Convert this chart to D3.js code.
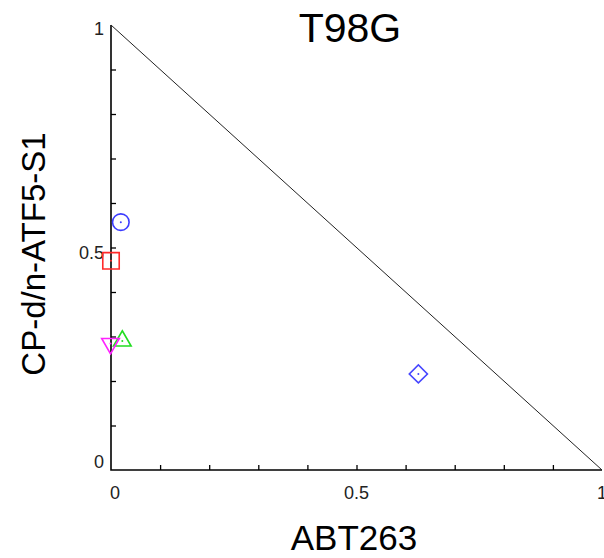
<!DOCTYPE html>
<html>
<head>
<meta charset="utf-8">
<script src="https://cdn.jsdelivr.net/npm/d3@7"></script>
<style>
  body { margin: 0; background: #fff; }
  svg { display: block; }
</style>
</head>
<body>
<script>
// data
const abt263 = [0.02, 0.0, 0.023, -0.001, 0.626]
const cpAtf5 = [0.557, 0.47, 0.29, 0.284, 0.216]
const xTickLabels = ['0', '0.5', '1']
const yTickLabels = ['0', '0.5', '1']
const minorTicks = [0.1, 0.2, 0.3, 0.4, 0.5, 0.6, 0.7, 0.8, 0.9]
const isoLine = [[0, 1], [1, 0]]

// marker styles, one per point
const markers = [
  { type: 'circle', color: '#3c3cff' },
  { type: 'square', color: '#ff2a2a' },
  { type: 'up', color: '#22dd22' },
  { type: 'down', color: '#ff22ff' },
  { type: 'diamond', color: '#4646ff' }
]

const width = 604
const height = 558
const margins = { top: 25, left: 111, right: 2, bottom: 88 }

const svg = d3.select('body').append('svg')
  .attr('width', width)
  .attr('height', height)

const x = d3.scaleLinear().domain([0, 1]).range([margins.left, width - margins.right])
const y = d3.scaleLinear().domain([0, 1]).range([height - margins.bottom, margins.top])

// axes: inward minor ticks
svg.append('g')
  .attr('transform', 'translate(0,' + y(0) + ')')
  .call(d3.axisTop(x).tickValues(minorTicks).tickSize(5).tickFormat(''))
  .call(g => g.select('.domain').remove())
  .selectAll('line').attr('stroke', '#000').attr('stroke-width', 1.3)

svg.append('g')
  .attr('transform', 'translate(' + x(0) + ',0)')
  .call(d3.axisRight(y).tickValues(minorTicks).tickSize(5).tickFormat(''))
  .call(g => g.select('.domain').remove())
  .selectAll('line').attr('stroke', '#000').attr('stroke-width', 1.3)

// axis lines
svg.append('path')
  .attr('d', 'M' + x(0) + ',' + y(1) + 'V' + y(0) + 'H' + x(1))
  .attr('fill', 'none')
  .attr('stroke', '#000')
  .attr('stroke-width', 1.6)

// tick labels
svg.append('g')
  .selectAll('text')
  .data(xTickLabels)
  .join('text')
  .attr('x', d => x(+d) + (+d === 0 ? 4 : 0))
  .attr('y', y(0) + 29)
  .attr('text-anchor', 'middle')
  .attr('font-family', 'Liberation Sans, Arial, sans-serif')
  .attr('font-size', 18)
  .attr('fill', '#222')
  .text(d => d)

svg.append('g')
  .selectAll('text')
  .data(yTickLabels)
  .join('text')
  .attr('x', x(0) - 7)
  .attr('y', d => y(+d) + (+d === 0 ? -2 : +d === 1 ? 10 : 11))
  .attr('text-anchor', 'end')
  .attr('font-family', 'Liberation Sans, Arial, sans-serif')
  .attr('font-size', 18)
  .attr('fill', '#222')
  .text(d => d)

// additivity line
svg.append('path')
  .attr('d', d3.line().x(d => x(d[0])).y(d => y(d[1]))(isoLine))
  .attr('fill', 'none')
  .attr('stroke', '#222')
  .attr('stroke-width', 1)

// markers
const symbolFor = t => {
  if (t === 'circle') return d3.symbol(d3.symbolCircle, 215)()
  if (t === 'square') return d3.symbol(d3.symbolSquare, 270)()
  if (t === 'diamond') return d3.symbol(d3.symbolSquare, 165)()
  return d3.symbol(d3.symbolTriangle, 135)()
}
const rotFor = t => (t === 'down' ? 180 : t === 'diamond' ? 45 : 0)

const pts = svg.append('g')
  .selectAll('g')
  .data(abt263.map((v, i) => ({ x: v, y: cpAtf5[i], m: markers[i] })))
  .join('g')
  .attr('transform', d => 'translate(' + x(d.x) + ',' + y(d.y) + ')')

pts.append('path')
  .attr('d', d => symbolFor(d.m.type))
  .attr('transform', d => 'rotate(' + rotFor(d.m.type) + ')')
  .attr('fill', 'none')
  .attr('stroke', d => d.m.color)
  .attr('stroke-width', 1.6)

pts.append('circle')
  .attr('r', 1)
  .attr('fill', d => d.m.color)

// titles
svg.append('text')
  .attr('x', 350)
  .attr('y', 42)
  .attr('text-anchor', 'middle')
  .attr('font-family', 'Liberation Sans, Arial, sans-serif')
  .attr('font-size', 41)
  .text('T98G')

svg.append('text')
  .attr('x', 354)
  .attr('y', 550)
  .attr('text-anchor', 'middle')
  .attr('font-family', 'Liberation Sans, Arial, sans-serif')
  .attr('font-size', 35)
  .text('ABT263')

svg.append('text')
  .attr('transform', 'translate(45,254) rotate(-90)')
  .attr('text-anchor', 'middle')
  .attr('font-family', 'Liberation Sans, Arial, sans-serif')
  .attr('font-size', 33)
  .text('CP-d/n-ATF5-S1')
</script>
</body>
</html>
